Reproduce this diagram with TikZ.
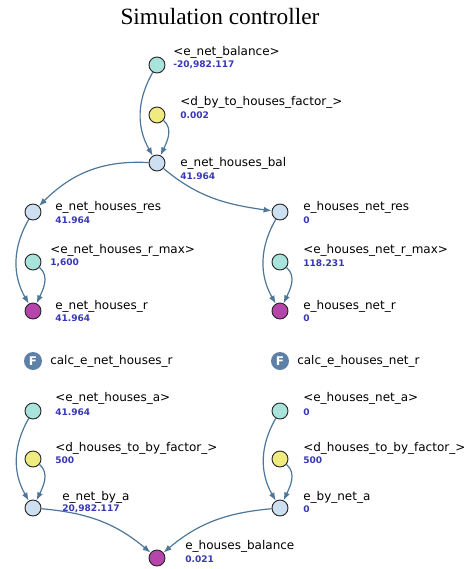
\documentclass[tikz,border=0pt]{standalone}
\usepackage{fontspec}
\setmainfont{DejaVu Sans}
\newfontfamily\titlefont{Liberation Serif}
\usetikzlibrary{arrows.meta}
\definecolor{shadowvar}{HTML}{A9E4DC}
\definecolor{constvar}{HTML}{F0EB7F}
\definecolor{auxvar}{HTML}{CCE0F2}
\definecolor{levelvar}{HTML}{B545AA}
\definecolor{linkc}{HTML}{4E7698}
\definecolor{valblue}{HTML}{3838B4}
\definecolor{fnc}{HTML}{5D80A6}

\begin{document}
\begin{tikzpicture}[x=0.75pt,y=0.75pt,
  var/.style={circle,draw=black!85,line width=0.7pt,minimum size=12pt,inner sep=0pt},
  shad/.style={var,fill=shadowvar},
  cnst/.style={var,fill=constvar},
  aux/.style={var,fill=auxvar},
  lvl/.style={var,fill=levelvar},
  nm/.style={anchor=west,inner sep=0pt,font=\fontsize{9}{10}\selectfont},
  vl/.style={anchor=west,inner sep=0pt,text=valblue,font=\fontsize{6.8}{8}\selectfont\bfseries},
  fn/.style={circle,fill=fnc,minimum size=13.5pt,inner sep=0pt,text=white,font=\fontsize{9}{9}\selectfont\bfseries},
  link/.style={draw=linkc,line width=0.9pt,-{Latex[length=6pt,width=4.5pt]}}]
  \useasboundingbox (0,0) rectangle (470,-569);

  % Title
  \node[font=\titlefont\fontsize{17.5}{20}\selectfont] (title) at (220,-17) {Simulation controller};

  % Top: net houses balance
  \node[shad] (netbal) at (157,-65) {};
  \node[nm] (netbal-n) at (173,-52) {<e\_net\_balance>};
  \node[vl] (netbal-v) at (173,-65) {-20,982.117};

  \node[cnst] (byfac) at (157,-115) {};
  \node[nm] (byfac-n) at (180,-102) {<d\_by\_to\_houses\_factor\_>};
  \node[vl] (byfac-v) at (180,-115) {0.002};

  \node[aux] (bal) at (157,-163) {};
  \node[nm] (bal-n) at (180,-163) {e\_net\_houses\_bal};
  \node[vl] (bal-v) at (180,-176) {41.964};

  \draw[link] (netbal) to[out=240,in=120] (bal);
  \draw[link] (byfac) to[out=-40,in=65] (bal);

  % Left column
  \node[aux] (nhres) at (33,-212) {};
  \node[nm] (nhres-n) at (55,-207) {e\_net\_houses\_res};
  \node[vl] (nhres-v) at (55,-220) {41.964};

  \node[shad] (nhmax) at (33,-262) {};
  \node[nm] (nhmax-n) at (50,-250) {<e\_net\_houses\_r\_max>};
  \node[vl] (nhmax-v) at (50,-263) {1,600};

  \node[lvl] (nhr) at (33,-311) {};
  \node[nm] (nhr-n) at (55,-306) {e\_net\_houses\_r};
  \node[vl] (nhr-v) at (55,-318) {41.964};

  \draw[link] (bal) to[out=177,in=45] (nhres);
  \draw[link] (nhres) to[out=240,in=120] (nhr);
  \draw[link] (nhmax) to[out=-40,in=65] (nhr);

  % Right column
  \node[aux] (hnres) at (280,-212) {};
  \node[nm] (hnres-n) at (303,-207) {e\_houses\_net\_res};
  \node[vl] (hnres-v) at (303,-220) {0};

  \node[shad] (hnmax) at (280,-262) {};
  \node[nm] (hnmax-n) at (303,-250) {<e\_houses\_net\_r\_max>};
  \node[vl] (hnmax-v) at (303,-263) {118.231};

  \node[lvl] (hnr) at (280,-311) {};
  \node[nm] (hnr-n) at (303,-306) {e\_houses\_net\_r};
  \node[vl] (hnr-v) at (303,-318) {0};

  \draw[link] (bal) to[out=-40,in=172] (hnres);
  \draw[link] (hnres) to[out=240,in=120] (hnr);
  \draw[link] (hnmax) to[out=-40,in=65] (hnr);

  % Functions
  \node[fn] (fnl) at (33,-361) {F};
  \node[nm] (fnl-n) at (50,-361) {calc\_e\_net\_houses\_r};
  \node[fn] (fnr) at (280,-361) {F};
  \node[nm] (fnr-n) at (297,-361) {calc\_e\_houses\_net\_r};

  % Bottom left
  \node[shad] (nha) at (33,-411) {};
  \node[nm] (nha-n) at (55,-398) {<e\_net\_houses\_a>};
  \node[vl] (nha-v) at (55,-412) {41.964};

  \node[cnst] (hfacl) at (33,-459) {};
  \node[nm] (hfacl-n) at (55,-448) {<d\_houses\_to\_by\_factor\_>};
  \node[vl] (hfacl-v) at (55,-460) {500};

  \node[aux] (nba) at (33,-508) {};
  \node[nm] (nba-n) at (62,-497) {e\_net\_by\_a};
  \node[vl] (nba-v) at (62,-509) {20,982.117};

  \draw[link] (nha) to[out=240,in=120] (nba);
  \draw[link] (hfacl) to[out=-40,in=65] (nba);

  % Bottom right
  \node[shad] (hna) at (280,-411) {};
  \node[nm] (hna-n) at (303,-398) {<e\_houses\_net\_a>};
  \node[vl] (hna-v) at (303,-412) {0};

  \node[cnst] (hfacr) at (280,-459) {};
  \node[nm] (hfacr-n) at (303,-448) {<d\_houses\_to\_by\_factor\_>};
  \node[vl] (hfacr-v) at (303,-460) {500};

  \node[aux] (bna) at (280,-508) {};
  \node[nm] (bna-n) at (303,-497) {e\_by\_net\_a};
  \node[vl] (bna-v) at (303,-509) {0};

  \draw[link] (hna) to[out=240,in=120] (bna);
  \draw[link] (hfacr) to[out=-40,in=65] (bna);

  % Houses balance
  \node[lvl] (hbal) at (157,-558) {};
  \node[nm] (hbal-n) at (185,-546) {e\_houses\_balance};
  \node[vl] (hbal-v) at (185,-559) {0.021};

  \draw[link] (nba) to[out=-5,in=140] (hbal);
  \draw[link] (bna) to[out=185,in=40] (hbal);
\end{tikzpicture}
\end{document}
